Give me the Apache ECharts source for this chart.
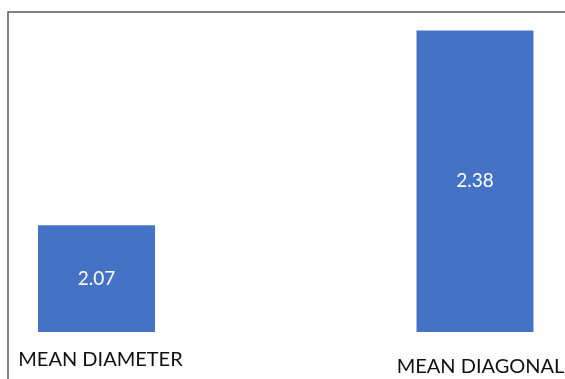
<!DOCTYPE html>
<html>
<head>
<meta charset="utf-8">
<script src="https://cdn.jsdelivr.net/npm/echarts@6/dist/echarts.min.js"></script>
<style>
  html, body { margin: 0; padding: 0; background: #fff; }
  #chart { width: 565px; height: 379px; }
</style>
</head>
<body>
<div id="chart"></div>
<script>
// Mean measurements per category
const categories = ['MEAN DIAMETER', 'MEAN DIAGONAL'];
const meanValues = [2.07, 2.38];

const chart = echarts.init(document.getElementById('chart'), null, { renderer: 'canvas' });

chart.setOption({
  animation: false,
  backgroundColor: '#ffffff',
  grid: { left: 96.5, right: 90, top: 18, bottom: 47, outerBoundsMode: 'none', containLabel: false },
  graphic: [{
    type: 'rect',
    shape: { x: 8, y: 12, width: 600, height: 400 },
    style: { fill: 'none', stroke: '#5a5a5a', lineWidth: 1.5 },
    silent: true
  }],
  xAxis: {
    type: 'category',
    data: categories,
    boundaryGap: false,
    axisLine: { show: false },
    axisTick: { show: false },
    axisLabel: {
      interval: 0,
      hideOverlap: false,
      margin: 18,
      formatter: function (v, i) { return '{c' + i + '|' + v + '}'; },
      rich: {
        c0: { fontFamily: 'Lato', fontSize: 20, color: '#111111', padding: [0, 0, 0, 8] },
        c1: { fontFamily: 'Lato', fontSize: 20, color: '#111111', padding: [7, 0, 0, 11] }
      }
    }
  },
  yAxis: {
    type: 'value',
    min: 1.9,
    max: 2.4,
    show: false,
    splitLine: { show: false }
  },
  series: [{
    type: 'bar',
    data: meanValues,
    barWidth: 117,
    itemStyle: { color: '#4472C4' },
    label: {
      show: true,
      position: 'inside',
      color: '#ffffff',
      fontFamily: 'Lato',
      fontSize: 19,
      formatter: function (p) { return p.value.toFixed(2); }
    }
  }]
});
</script>
</body>
</html>
